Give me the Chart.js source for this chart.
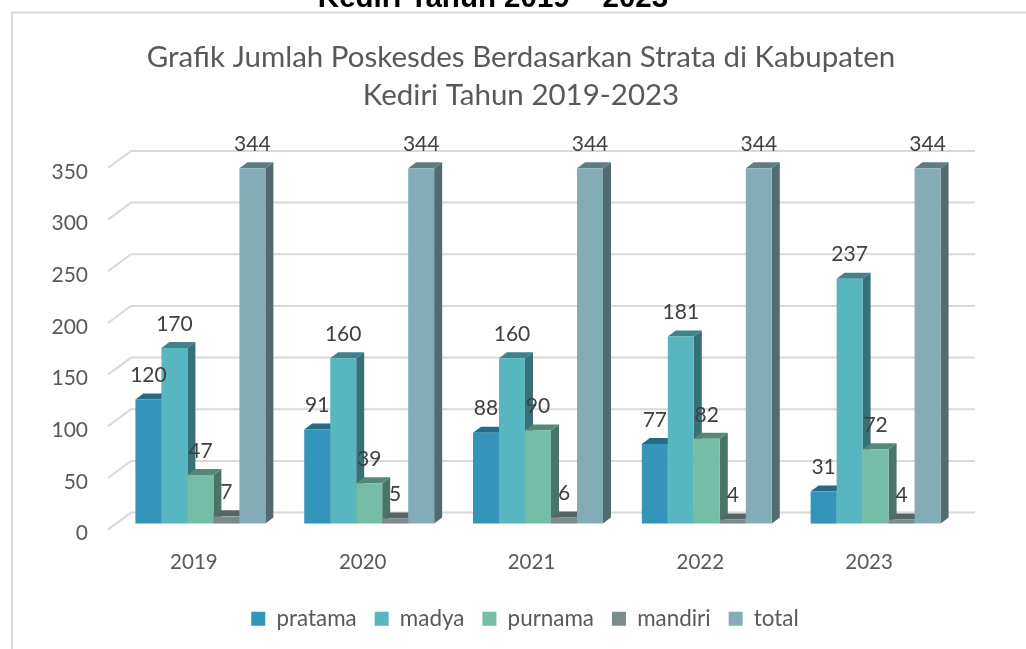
<!DOCTYPE html>
<html><head><meta charset="utf-8">
<style>html,body{margin:0;padding:0;background:#fff;overflow:hidden}canvas{display:block}</style>
<script src="https://cdn.jsdelivr.net/npm/chart.js@4"></script>
</head><body><canvas id="c" width="1026" height="649"></canvas>
<script>
const categories = ['2019','2020','2021','2022','2023'];
const pratama = [120,91,88,77,31];
const madya = [170,160,160,181,237];
const purnama = [47,39,90,82,72];
const mandiri = [7,5,6,4,4];
const total = [344,344,344,344,344];
const seriesNames = ['pratama','madya','purnama','mandiri','total'];
const seriesValues = [pratama,madya,purnama,mandiri,total];
const seriesColors = ['#3494BA','#58B6C0','#75BDA7','#7A8C8E','#84ACB6'];
const titleLines = ['Grafik Jumlah Poskesdes Berdasarkan Strata di Kabupaten','Kediri Tahun 2019-2023'];
const headingText = 'Kediri Tahun 2019 – 2023';
const FONT = 'Lato, Carlito, "Noto Sans", sans-serif';
const DX = 8, DY = 6, GX = 23, GY = 17;

function shade(hex,f){
  const n=parseInt(hex.slice(1),16);
  return 'rgb('+[(n>>16)&255,(n>>8)&255,n&255].map(v=>Math.round(v*f)).join(',')+')';
}
function poly(ctx,pts,fill){
  ctx.beginPath();ctx.moveTo(pts[0][0],pts[0][1]);
  pts.slice(1).forEach(p=>ctx.lineTo(p[0],p[1]));ctx.closePath();
  ctx.fillStyle=fill;ctx.fill();
}
const frame = {
  id:'frame',
  afterLayout(chart){
    chart.legend.left+=49; chart.legend.right+=49;
    chart.titleBlock.left+=45; chart.titleBlock.right+=45;
  },
  beforeDraw(chart){
    const c=chart.ctx;c.save();
    c.fillStyle='#fff';c.fillRect(0,0,chart.width,chart.height);
    c.strokeStyle='#d9d9d9';c.lineWidth=2;
    c.beginPath();c.moveTo(12,chart.height);c.lineTo(12,12.5);c.lineTo(chart.width,12.5);c.stroke();
    c.fillStyle='#000';c.font='bold 29.5px "Liberation Sans", Arial, sans-serif';
    c.textAlign='center';c.textBaseline='alphabetic';
    c.fillText(headingText,493,7);
    c.restore();
  }
};
const depth = {
  id:'depth',
  beforeDatasetsDraw(chart){
    const c=chart.ctx,ya=chart.scales.y,area=chart.chartArea;
    c.save();
    c.strokeStyle='#d9d9d9';c.lineWidth=2;
    ya.ticks.forEach(t=>{
      const y=ya.getPixelForValue(t.value);
      c.beginPath();c.moveTo(area.left,y);c.lineTo(area.left+GX,y-GY);c.lineTo(area.right+GX,y-GY);c.stroke();
    });
    c.translate(DX,-DY);
    chart.getSortedVisibleDatasetMetas().slice().sort((a,b)=>a.index-b.index).forEach(meta=>{
      const col=seriesColors[meta.index];
      meta.data.forEach(el=>{
        const p=el.getProps(['x','y','base','width'],true);
        const l=p.x-p.width/2,r=p.x+p.width/2;
        poly(c,[[r,p.y],[r+DX,p.y-DY],[r+DX,p.base-DY],[r,p.base]],shade(col,0.62));
        poly(c,[[l,p.y],[l+DX,p.y-DY],[r+DX,p.y-DY],[r,p.y]],shade(col,0.72));
        el.draw(c);
      });
    });
    c.font='21px '+FONT;c.fillStyle='#404040';c.textAlign='center';c.textBaseline='middle';
    chart.getSortedVisibleDatasetMetas().forEach(meta=>{
      meta.data.forEach((el,i)=>{
        const p=el.getProps(['x','y'],true);
        c.fillText(String(seriesValues[meta.index][i]),p.x,p.y-24);
      });
    });
    c.restore();
    return false;
  }
};
new Chart(document.getElementById('c'),{
  type:'bar',
  data:{labels:categories,datasets:seriesNames.map((n,i)=>({
    label:n,data:seriesValues[i],backgroundColor:seriesColors[i],
    borderWidth:0,categoryPercentage:0.77,barPercentage:1
  }))},
  options:{
    responsive:false,animation:false,
    layout:{padding:{left:0,right:74,top:39,bottom:9}},
    plugins:{
      title:{display:true,text:titleLines,color:'#595959',font:{family:FONT,size:29.5,weight:'normal',lineHeight:1.27},padding:{top:0,bottom:54}},
      legend:{position:'bottom',labels:{boxWidth:14,boxHeight:14,padding:18,color:'#595959',font:{family:FONT,size:22.4}}},
      tooltip:{enabled:false}
    },
    scales:{
      x:{grid:{display:false},border:{display:false},ticks:{color:'#595959',font:{family:FONT,size:20.5},padding:12,labelOffset:1.5},
         afterFit(s){s.height=60;}},
      y:{min:0,max:350,grid:{display:false},border:{display:false},
         ticks:{stepSize:50,color:'#595959',font:{family:FONT,size:21},padding:12,labelOffset:4},
         afterFit(s){s.width=108;}}
    }
  },
  plugins:[frame,depth]
});
</script></body></html>
